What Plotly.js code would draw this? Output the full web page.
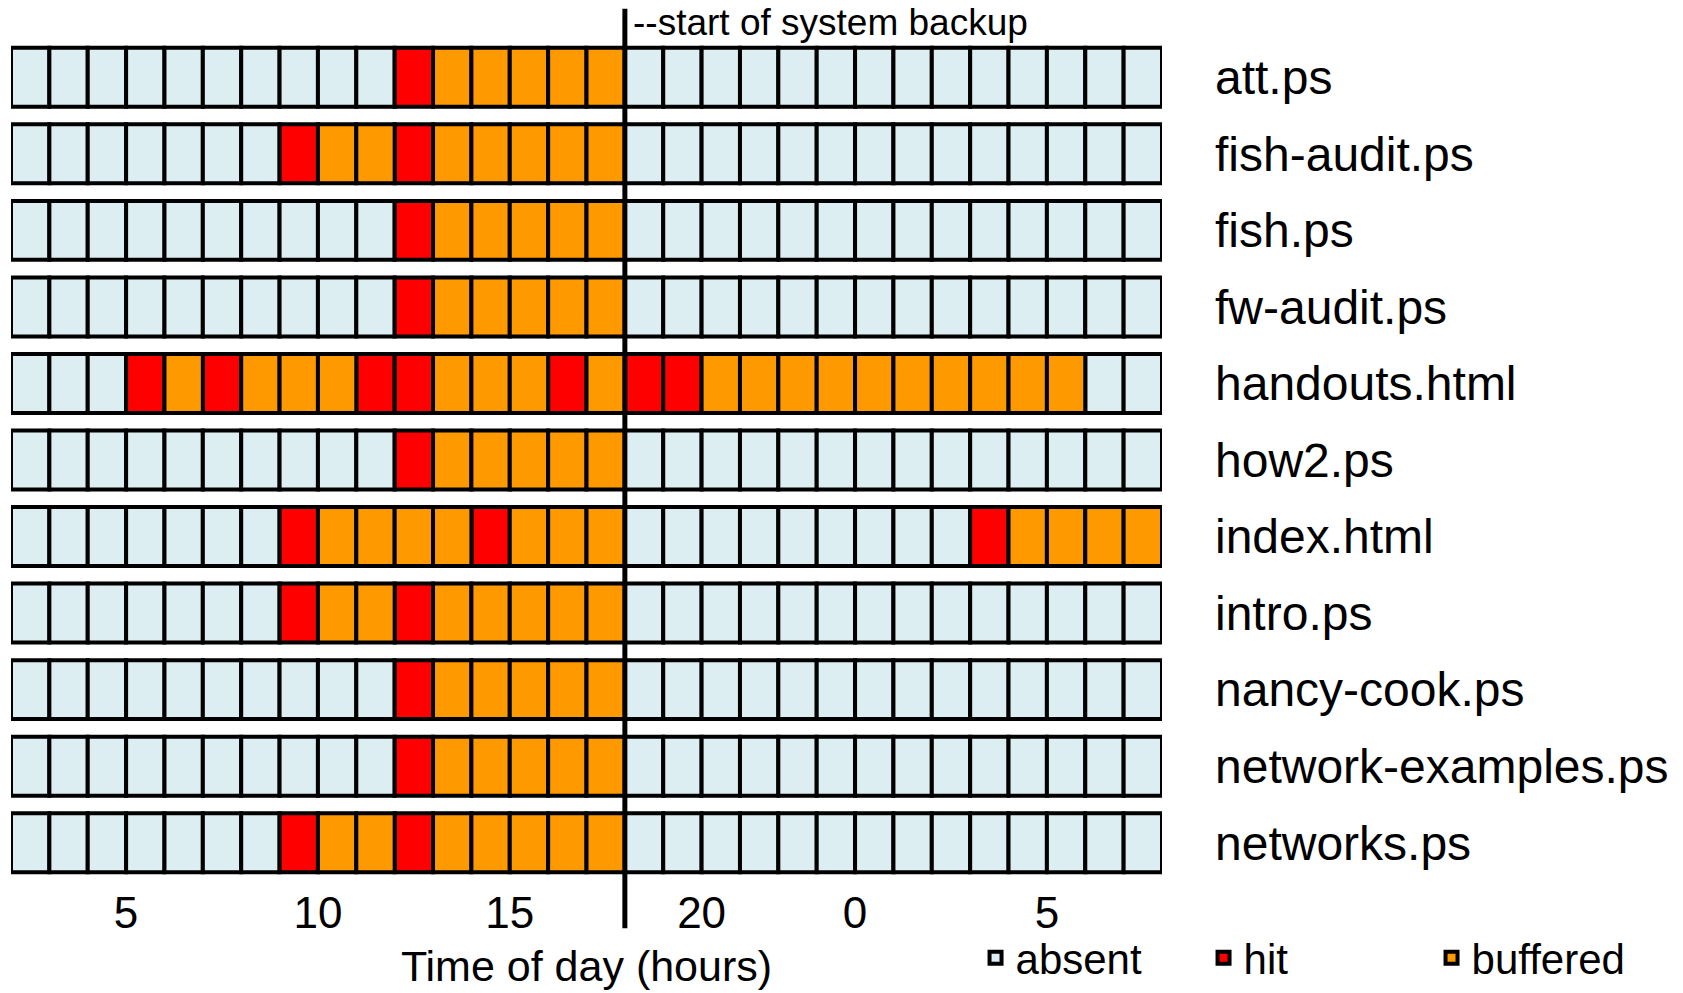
<!DOCTYPE html>
<html>
<head>
<meta charset="utf-8">
<script src="https://cdn.plot.ly/plotly-3.0.1.min.js"></script>
<style>html,body{margin:0;padding:0;background:#fff;}#chart{width:1683px;height:993px;}</style>
</head>
<body>
<div id="chart"></div>
<script>
// ---- data ----
// state codes: 0 = absent, 1 = hit, 2 = buffered ; one cell per hour
const hours = [2,3,4,5,6,7,8,9,10,11,12,13,14,15,16,17,18,19,20,21,22,23,24,25,26,27,28,29,30,31];
const files = ["att.ps","fish-audit.ps","fish.ps","fw-audit.ps","handouts.html","how2.ps",
               "index.html","intro.ps","nancy-cook.ps","network-examples.ps","networks.ps"];
const attPs            = [0,0,0,0,0,0,0,0,0,0,1,2,2,2,2,2,0,0,0,0,0,0,0,0,0,0,0,0,0,0];
const fishAuditPs      = [0,0,0,0,0,0,0,1,2,2,1,2,2,2,2,2,0,0,0,0,0,0,0,0,0,0,0,0,0,0];
const fishPs           = [0,0,0,0,0,0,0,0,0,0,1,2,2,2,2,2,0,0,0,0,0,0,0,0,0,0,0,0,0,0];
const fwAuditPs        = [0,0,0,0,0,0,0,0,0,0,1,2,2,2,2,2,0,0,0,0,0,0,0,0,0,0,0,0,0,0];
const handoutsHtml     = [0,0,0,1,2,1,2,2,2,1,1,2,2,2,1,2,1,1,2,2,2,2,2,2,2,2,2,2,0,0];
const how2Ps           = [0,0,0,0,0,0,0,0,0,0,1,2,2,2,2,2,0,0,0,0,0,0,0,0,0,0,0,0,0,0];
const indexHtml        = [0,0,0,0,0,0,0,1,2,2,2,2,1,2,2,2,0,0,0,0,0,0,0,0,0,1,2,2,2,2];
const introPs          = [0,0,0,0,0,0,0,1,2,2,1,2,2,2,2,2,0,0,0,0,0,0,0,0,0,0,0,0,0,0];
const nancyCookPs      = [0,0,0,0,0,0,0,0,0,0,1,2,2,2,2,2,0,0,0,0,0,0,0,0,0,0,0,0,0,0];
const networkExamplesPs= [0,0,0,0,0,0,0,0,0,0,1,2,2,2,2,2,0,0,0,0,0,0,0,0,0,0,0,0,0,0];
const networksPs       = [0,0,0,0,0,0,0,1,2,2,1,2,2,2,2,2,0,0,0,0,0,0,0,0,0,0,0,0,0,0];
const rows = [attPs,fishAuditPs,fishPs,fwAuditPs,handoutsHtml,how2Ps,indexHtml,introPs,
              nancyCookPs,networkExamplesPs,networksPs];
const stateNames = ["absent","hit","buffered"];
const stateColors = ["#DCEEF1","#FF0000","#FF9900"];
const backupHour = 18;
const tickVals = [5,10,15,20,24,29];
const tickText = ["5","10","15","20","0","5"];

// ---- build traces ----
const FONT = "Liberation Sans, Arial, Helvetica, sans-serif";
const traces = stateNames.map((name, s) => {
  const ys = [], bases = [], lens = [];
  rows.forEach((r, ri) => r.forEach((v, hi) => {
    if (v === s) { ys.push(files[ri]); bases.push(hours[hi]); lens.push(1); }
  }));
  return {
    type: "bar", orientation: "h", name: name,
    y: ys, x: lens, base: bases, width: 0.77,
    marker: {color: stateColors[s], line: {color: "#000", width: 4}},
    cliponaxis: false, hoverinfo: "skip"
  };
});

const layout = {
  width: 1683, height: 993,
  margin: {l: 11, r: 521, t: 39, b: 112, autoexpand: false},
  paper_bgcolor: "#fff", plot_bgcolor: "#fff",
  barmode: "overlay",
  font: {family: FONT, color: "#000"},
  showlegend: true,
  legend: {orientation: "h", x: 0.838, xanchor: "left", y: -0.1318, yanchor: "bottom",
           bgcolor: "rgba(0,0,0,0)",
           font: {size: 42, family: FONT}, entrywidth: 183, traceorder: "normal"},
  xaxis: {range: [2, 32], showgrid: false, zeroline: false, showline: false, automargin: false,
          tickvals: tickVals, ticktext: tickText, ticks: "",
          tickfont: {size: 44, family: FONT}, ticklabelstandoff: 2,
          title: {text: "Time of day (hours)", font: {size: 43, family: FONT}, standoff: 14}},
  yaxis: {type: "category", categoryorder: "array", categoryarray: files,
          range: [10.5, -0.5], side: "right", showgrid: false, zeroline: false, automargin: false,
          showline: false, ticks: "", tickfont: {size: 48, family: FONT},
          ticklabelstandoff: 52},
  shapes: [{type: "line", xref: "x", yref: "paper", x0: backupHour, x1: backupHour,
            y0: -0.056, y1: 1.036, line: {color: "#000", width: 5}}],
  annotations: [{xref: "x", yref: "paper", x: backupHour, y: 1.02, xanchor: "left",
                 yanchor: "middle", xshift: 6, showarrow: false,
                 text: "--start of system backup", font: {size: 37, family: FONT}}]
};

Plotly.newPlot("chart", traces, layout, {displayModeBar: false, staticPlot: true});
</script>
</body>
</html>
